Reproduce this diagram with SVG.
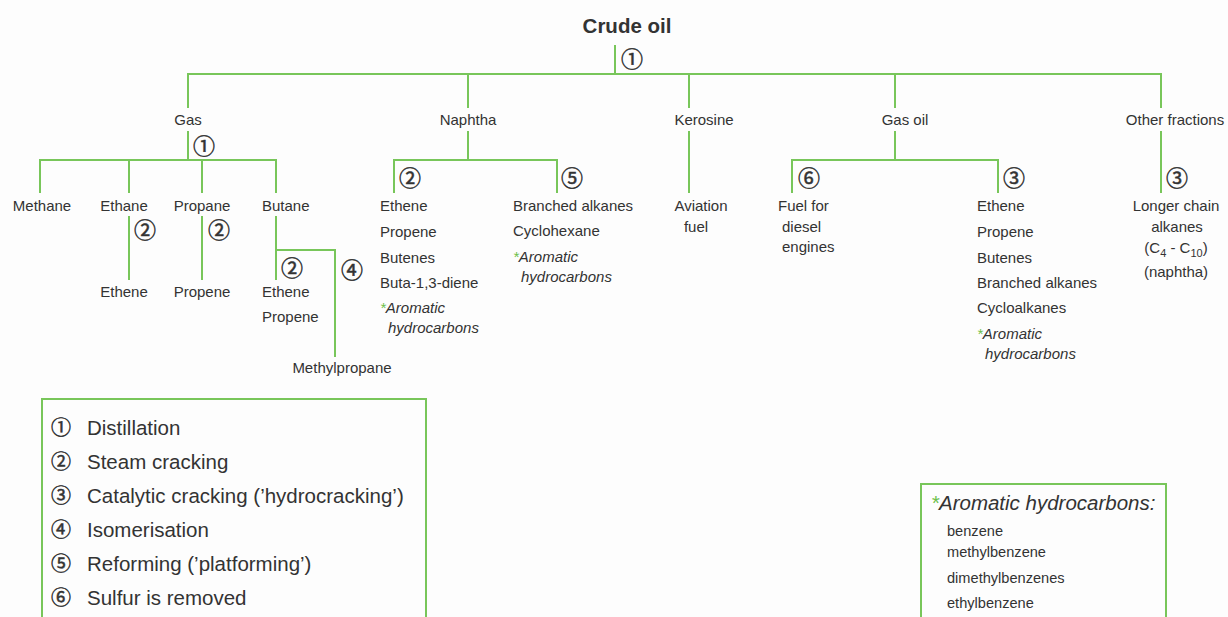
<svg xmlns="http://www.w3.org/2000/svg" width="1228" height="617" viewBox="0 0 1228 617">
<style>
.t{font-family:"Liberation Sans",Arial,sans-serif;font-size:15px;fill:#333}
.m{text-anchor:middle}
.i{font-style:italic}
.g{fill:#6cc04a}
.c{font-family:"Noto Sans CJK JP",sans-serif;font-size:22px;fill:#333;stroke:#333;stroke-width:0.5;text-anchor:middle}
.ln{stroke:#78c65a;stroke-width:2;fill:none}
.lg{font-family:"Liberation Sans",Arial,sans-serif;font-size:20.5px;fill:#333}
.box{stroke:#78c65a;stroke-width:2;fill:none}
</style>
<rect width="1228" height="617" fill="#fdfdfd"/>
<g id="connectors">
<path class="ln" d="M615 45V74M188 108V74H1161V108M468 74V108M689 74V108M895 74V108"/>
<path class="ln" d="M188 131V160M40 193V160H276V193M129 160V193M202 160V193"/>
<path class="ln" d="M129 216V280M202 216V280M276 216V280M276 250H335V357"/>
<path class="ln" d="M468 131V160M394 193V160H557V193"/>
<path class="ln" d="M689 131V193"/>
<path class="ln" d="M895 131V160M792 193V160H998V193"/>
<path class="ln" d="M1161 131V193"/>
</g>
<g id="crude-oil">
<text x="627" y="33" class="t m" style="font-weight:bold;font-size:20.5px">Crude oil</text>
<text x="632" y="67" class="c">①</text>
</g>
<g id="gas">
<text x="188" y="125" class="t m">Gas</text>
<text x="204" y="154" class="c">①</text>
</g>
<g id="methane"><text x="42" y="211" class="t m">Methane</text></g>
<g id="ethane">
<text x="124" y="211" class="t m">Ethane</text>
<text x="145" y="238" class="c">②</text>
<text x="124" y="297" class="t m">Ethene</text>
</g>
<g id="propane">
<text x="202" y="211" class="t m">Propane</text>
<text x="219" y="238" class="c">②</text>
<text x="202" y="297" class="t m">Propene</text>
</g>
<g id="butane">
<text x="262" y="211" class="t">Butane</text>
<text x="292" y="276" class="c">②</text>
<text x="352" y="278" class="c">④</text>
<text x="262" y="297" class="t">Ethene</text>
<text x="262" y="322" class="t">Propene</text>
<text x="342" y="373" class="t m">Methylpropane</text>
</g>
<g id="naphtha">
<text x="468" y="125" class="t m">Naphtha</text>
<text x="410" y="186" class="c">②</text>
<text x="572" y="186" class="c">⑤</text>
<text class="t"><tspan x="380" y="211">Ethene</tspan><tspan x="380" y="237">Propene</tspan><tspan x="380" y="263">Butenes</tspan><tspan x="380" y="288">Buta-1,3-diene</tspan></text>
<text x="380" y="313" class="t i"><tspan class="g">*</tspan>Aromatic</text>
<text x="388" y="333" class="t i">hydrocarbons</text>
<text class="t"><tspan x="513" y="211">Branched alkanes</tspan><tspan x="513" y="236">Cyclohexane</tspan></text>
<text x="513" y="262" class="t i"><tspan class="g">*</tspan>Aromatic</text>
<text x="521" y="282" class="t i">hydrocarbons</text>
</g>
<g id="kerosine">
<text x="704" y="125" class="t m">Kerosine</text>
<text x="701" y="211" class="t m">Aviation</text>
<text x="696" y="232" class="t m">fuel</text>
</g>
<g id="gas-oil">
<text x="905" y="125" class="t m">Gas oil</text>
<text x="809" y="186" class="c">⑥</text>
<text x="1014" y="186" class="c">③</text>
<text x="778" y="211" class="t">Fuel for</text>
<text x="782" y="232" class="t">diesel</text>
<text x="782" y="252" class="t">engines</text>
<text class="t"><tspan x="977" y="211">Ethene</tspan><tspan x="977" y="237">Propene</tspan><tspan x="977" y="263">Butenes</tspan><tspan x="977" y="288">Branched alkanes</tspan><tspan x="977" y="313">Cycloalkanes</tspan></text>
<text x="977" y="339" class="t i"><tspan class="g">*</tspan>Aromatic</text>
<text x="985" y="359" class="t i">hydrocarbons</text>
</g>
<g id="other-fractions">
<text x="1175" y="125" class="t m">Other fractions</text>
<text x="1177" y="186" class="c">③</text>
<text x="1176" y="211" class="t m">Longer chain</text>
<text x="1177" y="232" class="t m">alkanes</text>
<text x="1176" y="253" class="t m">(C<tspan dy="4" font-size="11">4</tspan><tspan dy="-4"> - C</tspan><tspan dy="4" font-size="11">10</tspan><tspan dy="-4">)</tspan></text>
<text x="1176" y="277" class="t m">(naphtha)</text>
</g>
<g id="legend">
<path class="box" d="M42 617V399H426V617"/>
<text x="61" y="435" class="c" style="font-size:20px">①</text>
<text x="61" y="469" class="c" style="font-size:20px">②</text>
<text x="61" y="503" class="c" style="font-size:20px">③</text>
<text x="61" y="537" class="c" style="font-size:20px">④</text>
<text x="61" y="571" class="c" style="font-size:20px">⑤</text>
<text x="61" y="605" class="c" style="font-size:20px">⑥</text>
<text class="lg"><tspan x="87" y="435">Distillation</tspan><tspan x="87" y="469">Steam cracking</tspan><tspan x="87" y="503">Catalytic cracking (’hydrocracking’)</tspan><tspan x="87" y="537">Isomerisation</tspan><tspan x="87" y="571">Reforming (’platforming’)</tspan><tspan x="87" y="605">Sulfur is removed</tspan></text>
</g>
<g id="aromatic-box">
<path class="box" d="M921 617V484H1166V617"/>
<text x="931" y="510" class="lg i" style="font-size:20.5px"><tspan class="g">*</tspan>Aromatic hydrocarbons:</text>
<text class="t" style="font-size:14.6px"><tspan x="947" y="536">benzene</tspan><tspan x="947" y="557">methylbenzene</tspan><tspan x="947" y="583">dimethylbenzenes</tspan><tspan x="947" y="608">ethylbenzene</tspan></text>
</g>
</svg>
